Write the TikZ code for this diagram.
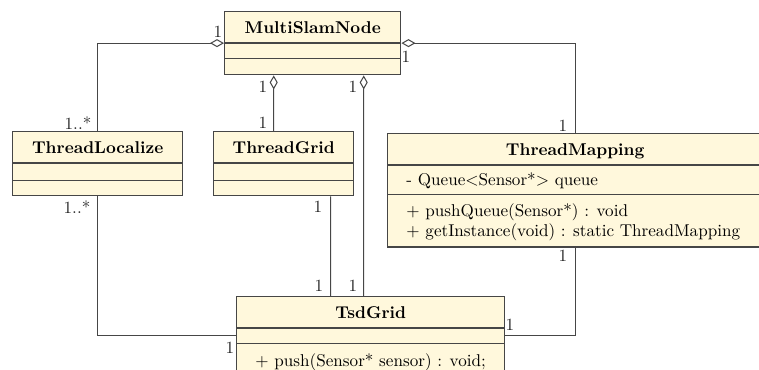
\documentclass[tikz,border=0pt]{standalone}
\usetikzlibrary{shapes.multipart,arrows.meta,calc}
\definecolor{umlfill}{RGB}{255,248,220}
\definecolor{umlline}{RGB}{70,70,70}
\tikzset{
  umlclass/.style={rectangle split, rectangle split parts=3, draw=umlline, fill=umlfill,
    line width=0.8pt, inner xsep=11pt, inner ysep=0pt, anchor=north west},
  assoc/.style={draw=umlline, line width=0.6pt},
  aggr/.style={assoc, {Diamond[open,length=8.2pt,width=4.7pt]}-},
  mult/.style={inner sep=0pt, text=black!85},
}
\newcommand{\titlerow}[1]{\textbf{#1}\rule[-5.4pt]{0pt}{17.6pt}}
\begin{document}
\begin{tikzpicture}[x=0.585pt,y=-0.585pt]
	\useasboundingbox (0,0) rectangle (759,370);
	\clip (0,0) rectangle (759,370);
	% classes
	\node[umlclass, minimum width=103pt] (msn) at (224,11) {\titlerow{MultiSlamNode}
		\nodepart{two}\rule{0pt}{8.2pt}
		\nodepart{three}\rule{0pt}{8.7pt}};
	\node[umlclass, minimum width=99.5pt] (tl) at (12,131) {\titlerow{ThreadLocalize}
		\nodepart{two}\rule{0pt}{9.3pt}
		\nodepart{three}\rule{0pt}{8.2pt}};
	\node[umlclass, minimum width=81.9pt] (tg) at (213,131) {\titlerow{ThreadGrid}
		\nodepart{two}\rule{0pt}{9.3pt}
		\nodepart{three}\rule{0pt}{8.2pt}};
	\node[umlclass, minimum width=219.4pt, align=left,
		rectangle split part align={center,left,left}] (tm) at (387,133) {\titlerow{ThreadMapping}
		\nodepart{two}- Queue$<$Sensor*$>$ queue\rule[-4.8pt]{0pt}{16.4pt}
		\nodepart{three}+ pushQueue(Sensor*) : void\rule{0pt}{12.2pt}\\
		+ getInstance(void) : static ThreadMapping\rule[-5.6pt]{0pt}{0pt}};
	\node[umlclass, minimum width=156.8pt,
		rectangle split part align={center,left,left}] (tsd) at (236,296) {\titlerow{TsdGrid}
		\nodepart{two}\rule{0pt}{8.2pt}
		\nodepart{three}+ push(Sensor* sensor) : void;\rule[-6.6pt]{0pt}{19.9pt}};
	% aggregations from MultiSlamNode
	\draw[aggr] (msn.text split west) -| (tl.north);
	\draw[aggr] (msn.text split east) -| (tm.north);
	\draw[aggr] ($(msn.south)+(-39,0)$) -- ($(tg.north)+(-10,0)$);
	\draw[aggr] ($(msn.south)+(51,0)$) -- ($(tsd.north)+(-7,0)$);
	% associations to TsdGrid
	\draw[assoc] ($(tg.south)+(47,0)$) -- ($(tsd.north)+(-40,0)$);
	\draw[assoc] (tl.south) |- ($(tsd.text split west)!.5!(tsd.two split west)$);
	\draw[assoc] (tm.south) |- ($(tsd.text split east)!.5!(tsd.two split east)$);
	% multiplicities
	\node[mult] (mLocA) at (218,32) {1};
	\node[mult] (mMapA) at (406,57) {1};
	\node[mult] (mLocB) at (78,123) {1..*};
	\node[mult] (mGridA) at (263,87) {1};
	\node[mult] (mGridB) at (263,123) {1};
	\node[mult] (mTsdA) at (353,87) {1};
	\node[mult] (mMapB) at (563,126) {1};
	\node[mult] (mLocC) at (77,207) {1..*};
	\node[mult] (mGridC) at (318,207) {1};
	\node[mult] (mGridD) at (319,286) {1};
	\node[mult] (mTsdB) at (353,286) {1};
	\node[mult] (mTsdC) at (230,348) {1};
	\node[mult] (mTsdD) at (510,325) {1};
	\node[mult] (mMapC) at (563,256) {1};
\end{tikzpicture}
\end{document}
